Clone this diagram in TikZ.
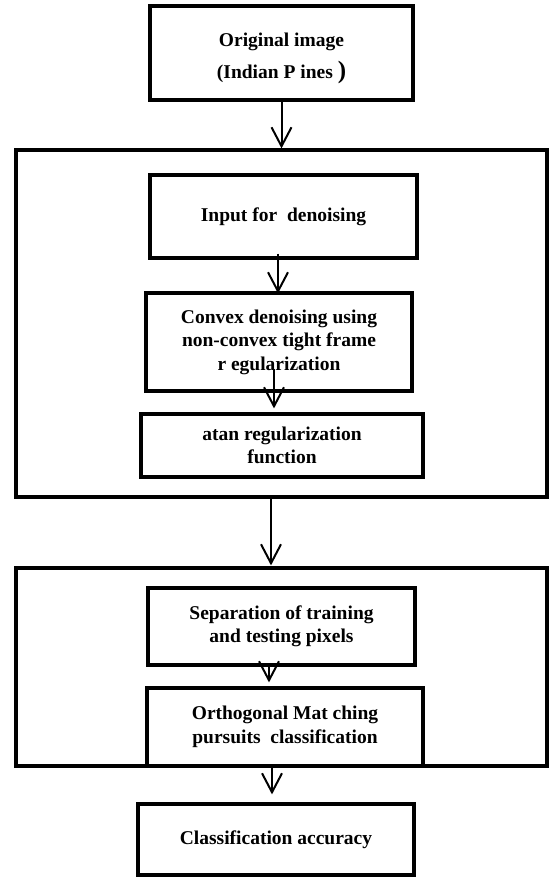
\documentclass[tikz,border=0pt]{standalone}
\usepackage{fontspec}
\setmainfont{Liberation Serif}
\usetikzlibrary{arrows.meta}
\tikzset{
  box/.style={draw, line width=3.2pt, inner sep=0pt, align=center,
    font=\fontsize{19.5}{23.5}\selectfont\bfseries},
  frame/.style={draw, line width=3.2pt, inner sep=0pt},
  arr/.style={line width=2pt, -{Straight Barb[length=19pt,width=20pt,line width=2pt]}}
}
\begin{document}
\begin{tikzpicture}[x=1pt,y=-1pt]
\useasboundingbox (0,0) rectangle (550,878);
% outer frames
\node[frame, minimum width=531pt, minimum height=347pt] (big1) at (281.5,323.5) {};
\node[frame, minimum width=531pt, minimum height=198pt] (big2) at (281.5,667) {};
% boxes
\node[box, minimum width=263pt, minimum height=94pt] (top) at (281.5,53) {\rule{0pt}{24pt}Original image\\[8pt](Indian P ines {\fontsize{25}{25}\selectfont)}};
\node[box, minimum width=267pt, minimum height=83pt] (input) at (283.5,216.5) {Input for\ \ denoising};
\node[box, minimum width=266pt, minimum height=98pt] (convex) at (279,342) {Convex denoising using\\non-convex tight frame\\r egularization};
\node[box, minimum width=282pt, minimum height=63pt] (atan) at (282,445.5) {atan regularization\\function};
\node[box, minimum width=267pt, minimum height=77pt] (sep) at (281.5,626.5) {Separation of training\\and testing pixels};
\node[box, minimum width=276pt, minimum height=78pt] (orth) at (285,727) {Orthogonal Mat ching\\pursuits\ \ classification};
\node[box, minimum width=276pt, minimum height=71pt] (acc) at (276,839.5) {Classification accuracy};
% arrows
\draw[arr] (top.south) -- (top.south |- big1.north);
\draw[arr] ([xshift=-5.5pt,yshift=6pt]input.south) -- ([xshift=-1pt,yshift=-2pt]convex.north);
\draw[arr] ([xshift=-5pt,yshift=24pt]convex.south) -- ([xshift=-8pt,yshift=4pt]atan.north);
\draw[arr] ([xshift=-10.5pt]big1.south) -- ([xshift=-10.5pt,yshift=1pt]big2.north);
\draw[arr] ([xshift=-12.5pt]sep.south) -- ([xshift=-16pt,yshift=4pt]orth.north);
\draw[arr] ([xshift=-13pt]orth.south) -- ([xshift=-4pt,yshift=8pt]acc.north);
\end{tikzpicture}
\end{document}
